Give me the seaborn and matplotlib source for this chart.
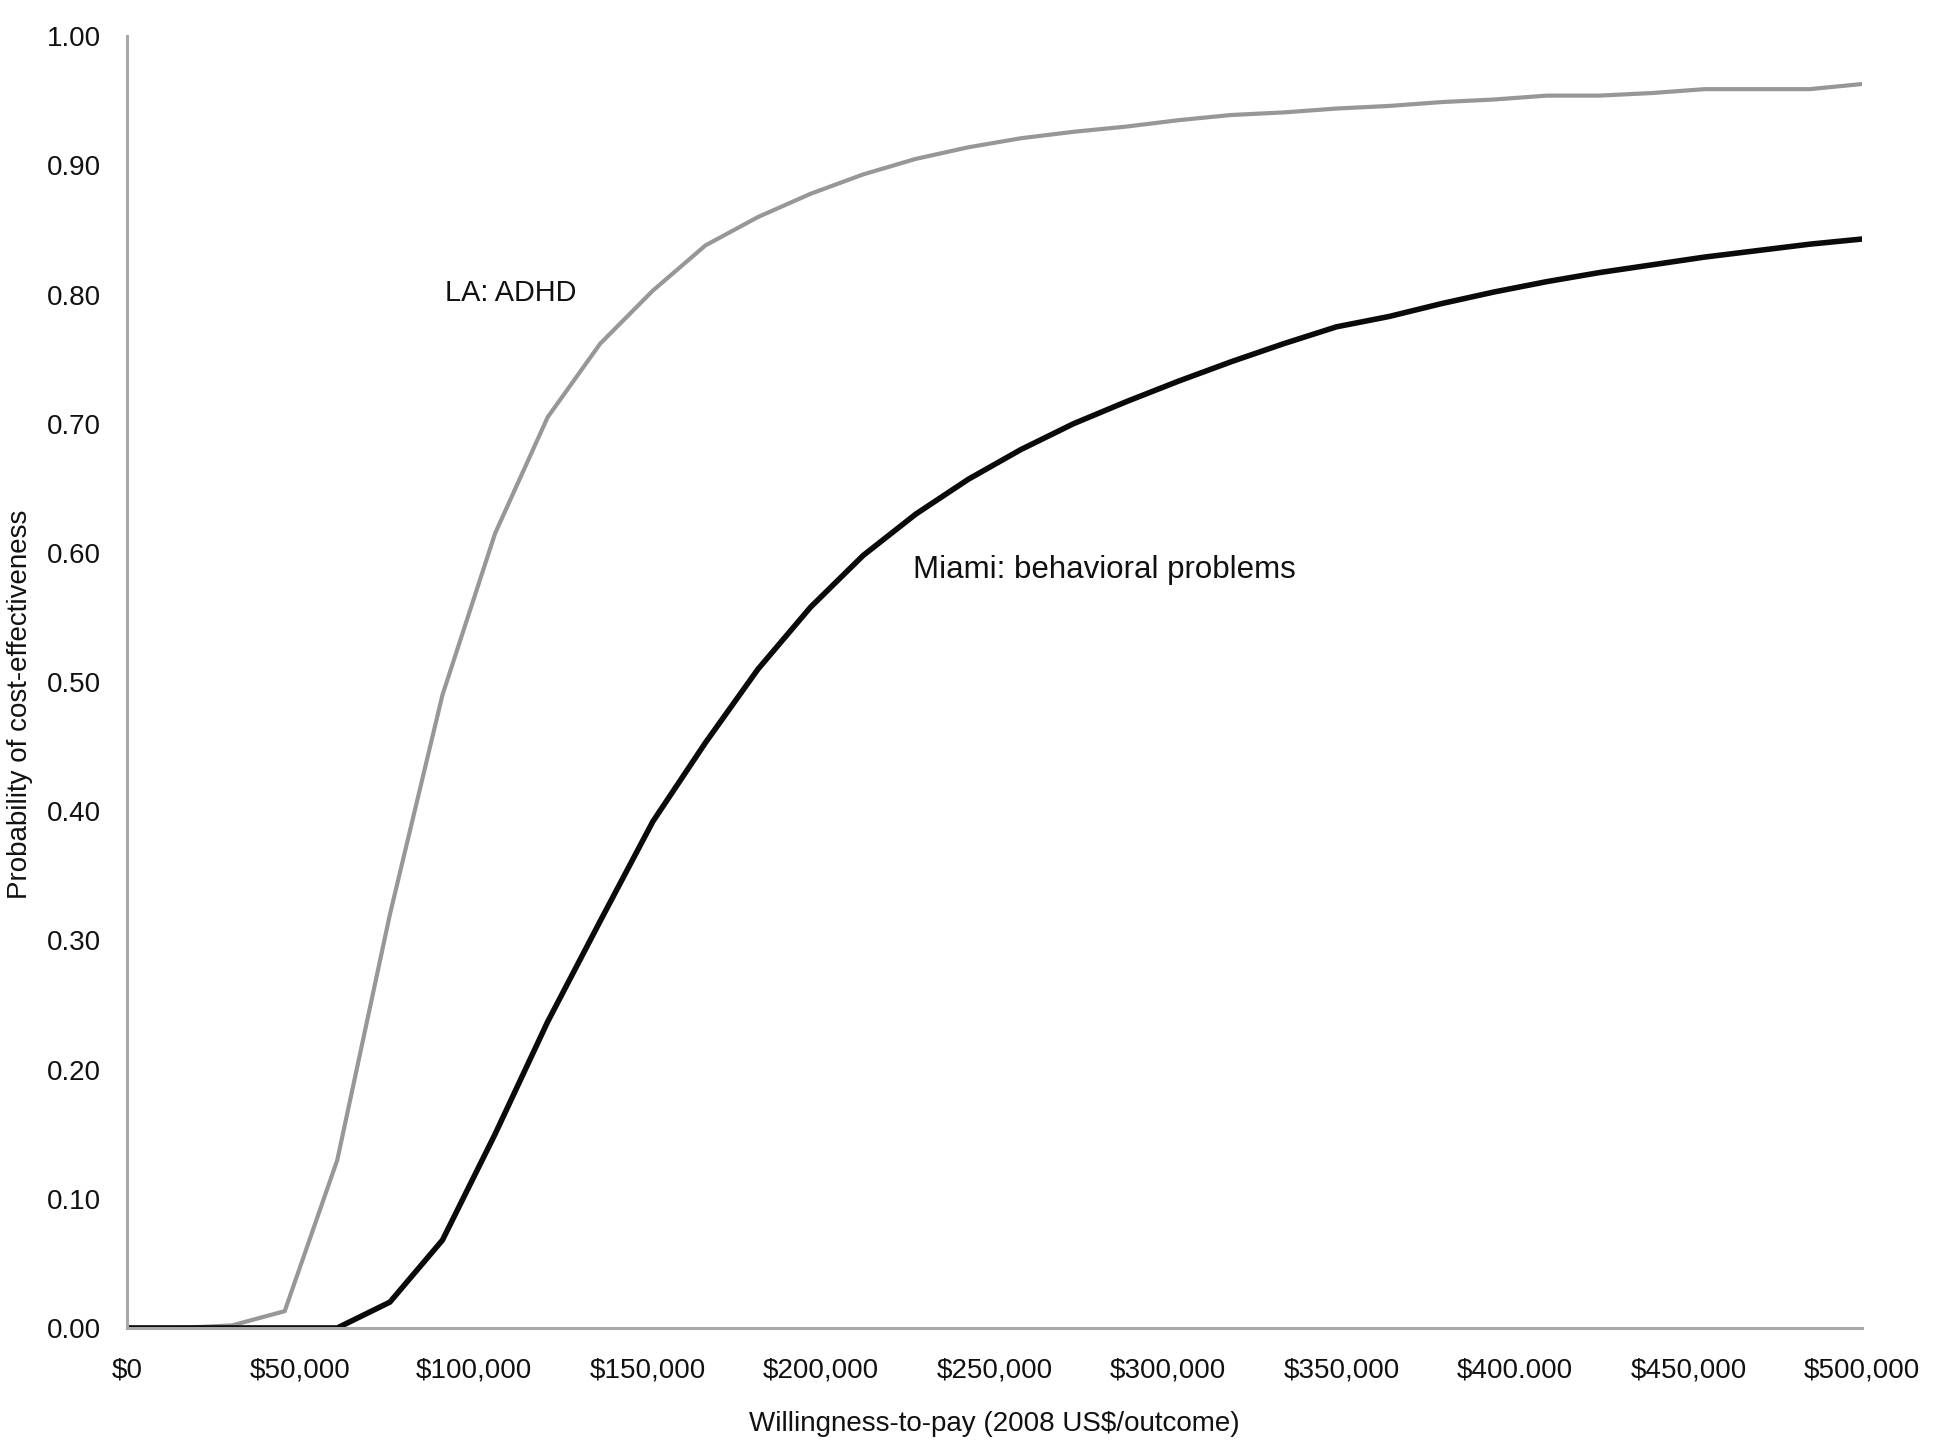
import numpy as np
import pandas as pd
import matplotlib
matplotlib.use("Agg")
import matplotlib.pyplot as plt
import seaborn as sns
from matplotlib.ticker import FixedLocator

# ---- data ----
wtp = [0, 15152, 30303, 45455, 60606, 75758, 90909, 106061, 121212, 136364,
       151515, 166667, 181818, 196970, 212121, 227273, 242424, 257576, 272727,
       287879, 303030, 318182, 333333, 348485, 363636, 378788, 393939, 409091,
       424242, 439394, 454545, 469697, 484848, 500000]

la_adhd = [0.000, 0.000, 0.002, 0.013, 0.130, 0.320, 0.490, 0.615, 0.705, 0.762,
           0.803, 0.838, 0.860, 0.878, 0.893, 0.905, 0.914, 0.921, 0.926,
           0.930, 0.935, 0.939, 0.941, 0.944, 0.946, 0.949, 0.951, 0.954,
           0.954, 0.956, 0.959, 0.959, 0.959, 0.963]

miami_behav = [0.000, 0.000, 0.000, 0.000, 0.000, 0.020, 0.068, 0.150, 0.237, 0.315,
               0.392, 0.453, 0.510, 0.558, 0.598, 0.630, 0.657, 0.680, 0.700,
               0.717, 0.733, 0.748, 0.762, 0.775, 0.783, 0.793, 0.802, 0.810,
               0.817, 0.823, 0.829, 0.834, 0.839, 0.843]

series_names = ["LA: ADHD", "Miami: behavioral problems"]
yticks = [0.0, 0.1, 0.2, 0.3, 0.4, 0.5, 0.6, 0.7, 0.8, 0.9, 1.0]
ytick_labels = ["0.00", "0.10", "0.20", "0.30", "0.40", "0.50", "0.60", "0.70", "0.80", "0.90", "1.00"]
xticks = [0, 50000, 100000, 150000, 200000, 250000, 300000, 350000, 400000, 450000, 500000]
xtick_labels = ["$0", "$50,000", "$100,000", "$150,000", "$200,000", "$250,000",
                "$300,000", "$350,000", "$400.000", "$450,000", "$500,000"]
xlabel = "Willingness-to-pay (2008 US$/outcome)"
ylabel = "Probability of cost-effectiveness"

df = pd.DataFrame({
    "wtp": wtp * 2,
    "prob": la_adhd + miami_behav,
    "series": [series_names[0]] * len(wtp) + [series_names[1]] * len(wtp),
})

# ---- style ----
sns.set_theme(style="white")
plt.rcParams["font.family"] = ["Liberation Sans", "DejaVu Sans"]
plt.rcParams["text.color"] = "#111111"

fig = plt.figure(figsize=(19.5, 14.48), dpi=100)
ax = fig.add_axes([0.0651, 0.0829, 0.8899, 0.8921])

palette = {series_names[0]: "#979797", series_names[1]: "#0a0a0a"}
sns.lineplot(data=df, x="wtp", y="prob", hue="series", palette=palette,
             ax=ax, legend=False, linewidth=3.0)
for line in ax.get_lines():
    if matplotlib.colors.to_hex(line.get_color()) == "#0a0a0a":
        line.set_linewidth(4.0)
    line.set_solid_joinstyle("round")

ax.set_xlim(0, 500000)
ax.set_ylim(0, 1.0)
ax.xaxis.set_major_locator(FixedLocator(xticks))
ax.set_xticklabels(xtick_labels)
ax.yaxis.set_major_locator(FixedLocator(yticks))
ax.set_yticklabels(ytick_labels)

for side in ["top", "right"]:
    ax.spines[side].set_visible(False)
for side in ["left", "bottom"]:
    ax.spines[side].set_color("#a8a8a8")
    ax.spines[side].set_linewidth(2.2)

ax.tick_params(axis="both", which="major", direction="out", length=6, width=2.2,
               color="#a8a8a8", labelsize=20, labelcolor="#111111")
ax.tick_params(axis="y", pad=13)
ax.tick_params(axis="x", pad=15)

ax.set_xlabel(xlabel, fontsize=20, color="#111111")
ax.set_ylabel(ylabel, fontsize=20, color="#111111")
ax.xaxis.set_label_coords(0.5, -0.064)
ax.yaxis.set_label_coords(-0.054, 0.483)

ax.text(91500, 0.801, series_names[0], fontsize=20.8, va="center", ha="left", color="#111111")
ax.text(226500, 0.587, series_names[1], fontsize=22.5, va="center", ha="left", color="#111111")

fig.savefig("out.png", dpi=100, facecolor="white")
